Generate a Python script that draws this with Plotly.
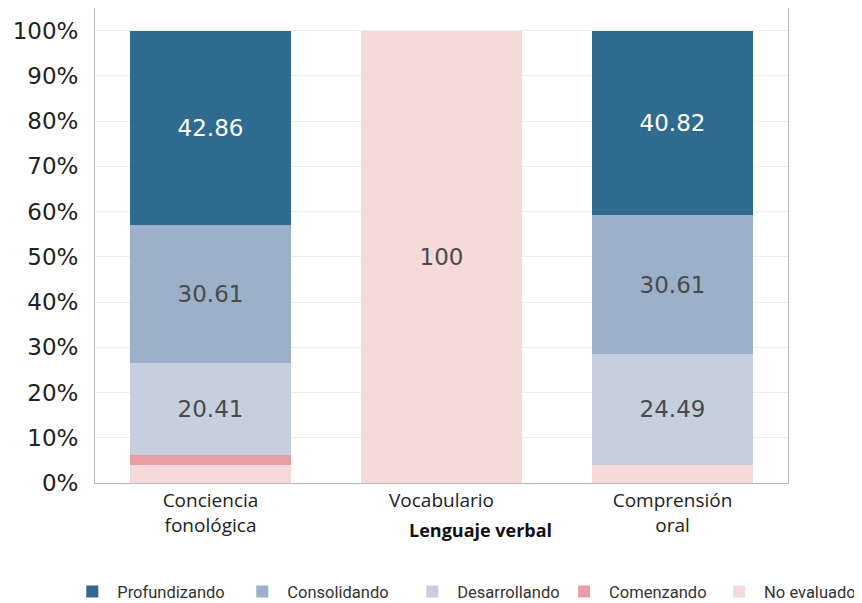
import plotly.graph_objects as go

categories = ["Conciencia<br>fonológica", "Vocabulario", "Comprensión<br>oral"]
series_names = ["No evaluado", "Comenzando", "Desarrollando", "Consolidando", "Profundizando"]
no_evaluado = [4.08, 100, 4.08]
comenzando = [2.04, 0, 0]
desarrollando = [20.41, 0, 24.49]
consolidando = [30.61, 0, 30.61]
profundizando = [42.86, 0, 40.82]
tick_vals = [0, 10, 20, 30, 40, 50, 60, 70, 80, 90, 100]
tick_text = [f"{v}%" for v in tick_vals]

values = [no_evaluado, comenzando, desarrollando, consolidando, profundizando]
colors = ["#f6d9d9", "#e89ea4", "#c6cfde", "#9cb1c9", "#2f6a8f"]
text_colors = ["#4a4a4a", "#4a4a4a", "#4a4a4a", "#4a4a4a", "#ffffff"]
legend_ids = ["legend2", "legend2", "legend", "legend", "legend"]

fig = go.Figure()
for name, vals, col, tc, lg in zip(series_names, values, colors, text_colors, legend_ids):
    labels = [f"{v:g}" if v >= 10 else "" for v in vals]
    fig.add_trace(go.Bar(
        x=categories, y=vals, name=name, marker=dict(color=col, line=dict(width=0)),
        text=labels, textposition="inside", insidetextanchor="middle",
        textfont=dict(color=tc, size=23, family="DejaVu Sans"),
        width=0.7, showlegend=True, legend=lg,
    ))

legend_font = dict(size=16.5, family="Roboto", color="#333333")
fig.update_layout(
    barmode="stack",
    width=862, height=603,
    margin=dict(l=87, r=82, t=0, b=128, autoexpand=False),
    plot_bgcolor="white", paper_bgcolor="white",
    font=dict(family="DejaVu Sans", color="#222222"),
    legend=dict(orientation="h", x=-0.040, xanchor="left", y=-0.229, yanchor="middle",
                traceorder="reversed", font=legend_font, itemwidth=40, entrywidth=115),
    legend2=dict(orientation="h", x=0.6697, xanchor="left", y=-0.229, yanchor="middle",
                 traceorder="reversed", font=legend_font, itemwidth=40, entrywidth=100),
    uniformtext=dict(mode="show", minsize=8),
)
fig.update_yaxes(range=[0, 105], tickvals=tick_vals, ticktext=tick_text,
                 tickfont=dict(size=23, family="DejaVu Sans", color="#222222"),
                 showgrid=True, gridcolor="#eeeeee", zeroline=False, automargin=False,
                 showline=True, linecolor="#bbbbbb", mirror=True, ticks="", ticklabelstandoff=11)
fig.update_xaxes(tickfont=dict(size=19, family="Open Sans", color="#222222"), automargin=False,
                 showline=True, linecolor="#bbbbbb", mirror=True, ticks="")
fig.add_annotation(text="<b>Lenguaje verbal</b>", x=0.556, xref="paper", y=-0.099, yref="paper",
                   showarrow=False, font=dict(size=18, family="Open Sans", color="#111111"),
                   yanchor="middle")

fig.write_html("out.html")
